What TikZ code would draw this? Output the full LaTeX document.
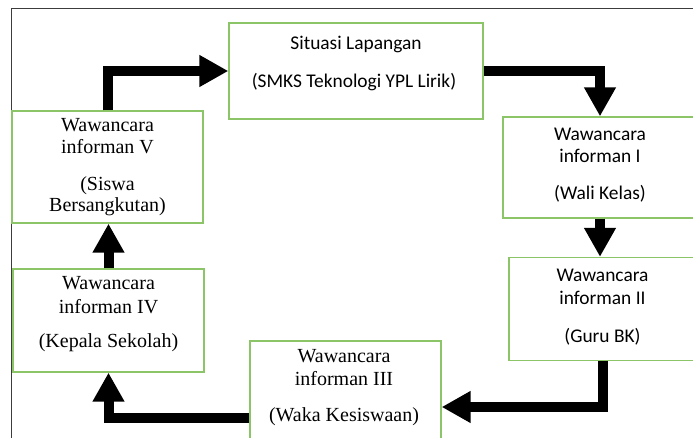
\documentclass[tikz,border=0pt]{standalone}
\usepackage{fontspec}
\setmainfont{Liberation Serif}
\newfontfamily\calib{Carlito}
\usetikzlibrary{arrows.meta}
\definecolor{boxgreen}{RGB}{140,196,104}
\definecolor{framegray}{RGB}{60,60,60}
\tikzset{
  box/.style={draw=boxgreen, line width=1.3pt, rectangle, inner sep=0pt},
  flowarrow/.style={line width=10pt, line join=miter, line cap=butt,
    -{Triangle[width=30pt,length=29pt]}},
  serifline/.style={anchor=base, inner sep=0pt, font=\fontsize{20}{22}\selectfont},
  sansline/.style={anchor=base, inner sep=0pt, font=\calib\fontsize{19.4}{22}\selectfont},
}
\begin{document}
\begin{tikzpicture}[x=1pt,y=-1pt]
\useasboundingbox (0,0) rectangle (693,438);
\clip (0,0) rectangle (693,438);
% outer frame
\draw[framegray, line width=1pt] (11,445) -- (11,9) -- (700,9);
% boxes
\node[box, minimum width=254pt, minimum height=96pt] (sit) at (356,71) {};
\node[box, minimum width=194pt, minimum height=101pt] (i) at (600,167.5) {};
\node[box, minimum width=187pt, minimum height=103pt] (ii) at (602.5,309) {};
\node[box, minimum width=191pt, minimum height=132pt] (iii) at (345.5,407) {};
\node[box, minimum width=191pt, minimum height=103pt] (iv) at (108.5,320.5) {};
\node[box, minimum width=191pt, minimum height=112pt] (v) at (107.5,167) {};
% texts
\node[sansline] (sit1) at (356,50) {Situasi Lapangan};
\node[sansline] (sit2) at (354,88) {(SMKS Teknologi YPL Lirik)};
\node[sansline] (i1) at (600,141) {Wawancara};
\node[sansline] (i2) at (600,163) {informan I};
\node[sansline] (i3) at (600,200) {(Wali Kelas)};
\node[sansline] (ii1) at (602.5,282) {Wawancara};
\node[sansline] (ii2) at (602.5,304) {informan II};
\node[sansline] (ii3) at (602.5,342) {(Guru BK)};
\node[serifline] (iii1) at (344,362) {Wawancara};
\node[serifline] (iii2) at (344,385) {informan III};
\node[serifline] (iii3) at (344,421) {(Waka Kesiswaan)};
\node[serifline] (iv1) at (108.5,289) {Wawancara};
\node[serifline] (iv2) at (108.5,313) {informan IV};
\node[serifline] (iv3) at (108.5,347) {(Kepala Sekolah)};
\node[serifline] (v1) at (107.5,132) {Wawancara};
\node[serifline] (v2) at (107.5,154) {informan V};
\node[serifline] (v3) at (107.5,191) {(Siswa};
\node[serifline] (v4) at (107.5,212) {Bersangkutan)};
% arrows
\draw[flowarrow] (v.north) |- (sit.west);
\draw[flowarrow] (sit.east) -| (i.north);
\draw[flowarrow] (i.south) -- (i.south |- ii.north);
\draw[flowarrow] (ii.south) |- (iii.east);
\draw[flowarrow] ([yshift=-11pt]iii.west) -| (iv.south);
\draw[flowarrow] (iv.north) -- (iv.north |- v.south);
\end{tikzpicture}
\end{document}
